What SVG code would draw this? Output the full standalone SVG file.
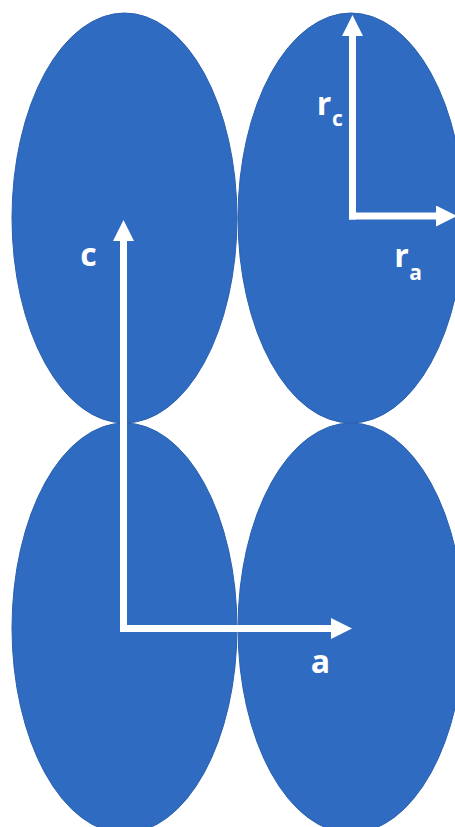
<svg xmlns="http://www.w3.org/2000/svg" width="455" height="827" viewBox="0 0 455 827">
<style>
.blob{fill:#2F6BC1;stroke:#2A60AE;stroke-width:1}
.shaft{fill:none;stroke:#FFFFFF;stroke-width:7;stroke-linecap:butt}
.lbl{font-family:"Open Sans","Liberation Sans",sans-serif;font-weight:bold;fill:#FFFFFF;text-anchor:middle}
.big{font-size:32px}
.sub{font-size:21px}
</style>
<defs>
<marker id="head" markerUnits="userSpaceOnUse" markerWidth="22" markerHeight="22" viewBox="0 0 22 22" refX="1" refY="10.5" orient="auto">
<path d="M0,0 L21,10.5 L0,21 Z" fill="#FFFFFF"/>
</marker>
</defs>
<rect width="455" height="827" fill="#FFFFFF"/>
<g id="ellipse-top-left"><ellipse class="blob" cx="124.5" cy="218" rx="112.5" ry="205"/></g>
<g id="ellipse-top-right"><ellipse class="blob" cx="351" cy="218" rx="113" ry="205"/></g>
<g id="ellipse-bottom-left"><ellipse class="blob" cx="124.5" cy="628" rx="112.5" ry="205"/></g>
<g id="ellipse-bottom-right"><ellipse class="blob" cx="351" cy="628" rx="113" ry="205"/></g>
<g id="connectors">
<path class="shaft" d="M123.5,632 V240" marker-end="url(#head)"/>
<path class="shaft" d="M123.5,628.5 H332" marker-end="url(#head)"/>
<path class="shaft" d="M352.5,219.5 V35" marker-end="url(#head)"/>
<path class="shaft" d="M349,216 H437" marker-end="url(#head)"/>
</g>
<g id="label-c"><text class="lbl big" x="88.5" y="266">c</text></g>
<g id="label-a"><text class="lbl big" x="320.5" y="673">a</text></g>
<g id="label-rc"><text class="lbl big" x="324" y="115">r</text><text class="lbl sub" x="337.5" y="126">c</text></g>
<g id="label-ra"><text class="lbl big" x="401.5" y="267">r</text><text class="lbl sub" x="415.5" y="280">a</text></g>
</svg>
